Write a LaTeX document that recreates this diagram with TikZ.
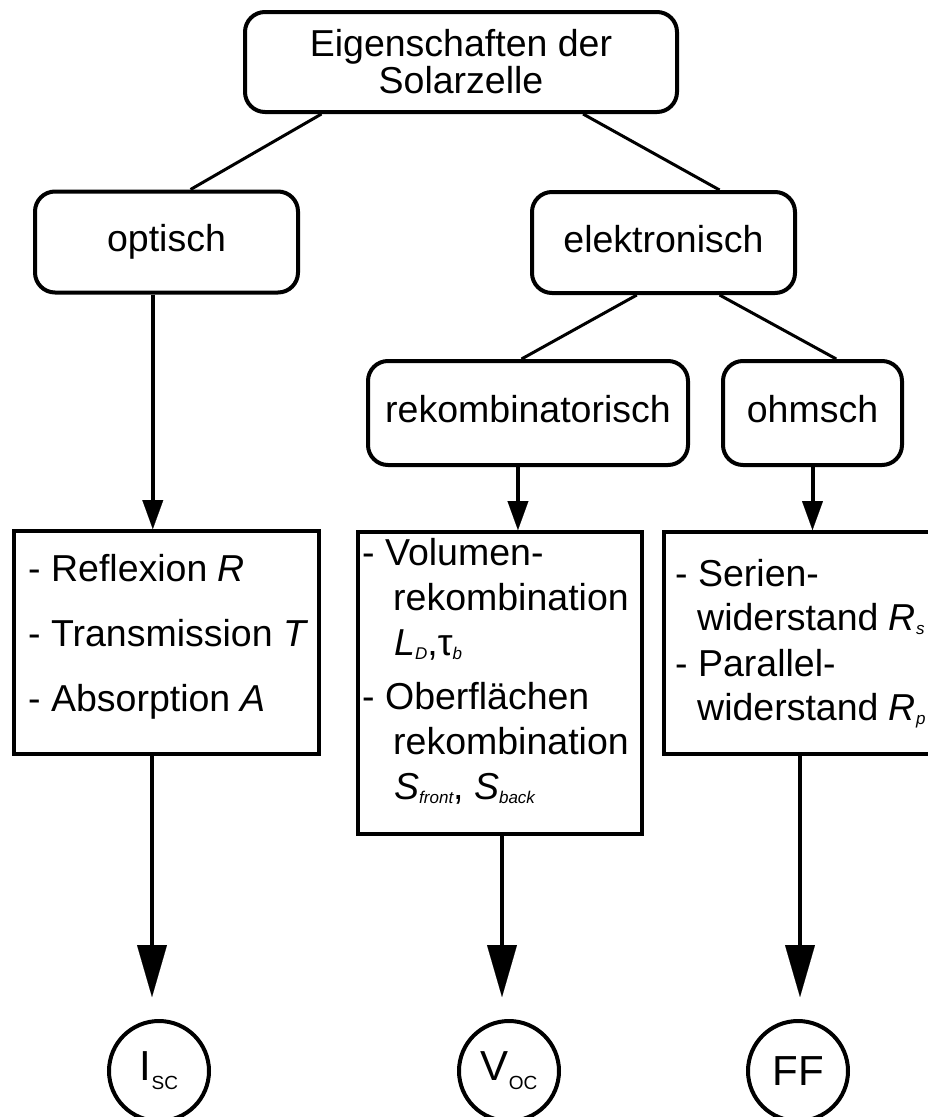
\documentclass[tikz,border=0pt]{standalone}
\usepackage{fontspec}
\setmainfont{Liberation Sans}
\usetikzlibrary{calc,arrows.meta}
\newcommand\lsub[1]{\raisebox{-4pt}{\fontsize{17}{17}\selectfont\itshape #1}}
\newcommand\csub[1]{\raisebox{-9pt}{\fontsize{19}{19}\selectfont #1}}
\begin{document}
\begin{tikzpicture}[x=1pt,y=-1pt,
  rbase/.style={draw,line width=4pt,rounded corners=20pt,inner sep=0pt,minimum height=101pt},
  rbox/.style={rbase,text height=27pt,text depth=8pt,font=\fontsize{37.5}{45}\selectfont},
  lbox/.style={draw,line width=4pt,inner sep=0pt,anchor=north west},
  ltext/.style={anchor=north west,align=left,inner sep=0pt,font=\fontsize{37.5}{45}\selectfont},
  circ/.style={draw,circle,line width=4pt,inner sep=0pt,minimum size=100pt,font=\fontsize{42}{42}\selectfont},
  conn/.style={line width=3pt},
  arr/.style={line width=4pt,-{Triangle[width=21pt,length=29pt,line width=0.1pt]}},
  bigarr/.style={line width=4pt,-{Triangle[width=30pt,length=52pt,line width=0.1pt]}}]
\useasboundingbox (0,0) rectangle (928,1117);
\fill[white] (0,0) rectangle (928,1117);
\clip (0,0) rectangle (928,1117);

% rounded boxes
\node[rbase,minimum width=432pt,minimum height=100pt,align=center,font=\fontsize{37.5}{37}\selectfont] (top) at (461,62) {Eigenschaften der\\Solarzelle};
\node[rbox,minimum width=263pt] (opt) at (166.5,242) {optisch};
\node[rbox,minimum width=263pt] (ele) at (663.5,242.5) {elektronisch};
\node[rbox,minimum width=320pt,minimum height=104pt] (rek) at (528,413) {rekombinatorisch};
\node[rbox,minimum width=179pt,minimum height=104pt] (ohm) at (812.5,413) {ohmsch};

% list boxes
\node[lbox,minimum width=305pt,minimum height=223pt] (lb) at (12,529) {};
\node[lbox,minimum width=284pt,minimum height=302pt] (mb) at (356,530) {};
\node[lbox,minimum width=283pt,minimum height=222pt] (rb) at (662,530) {};

\node[ltext] (lt) at (28,553.7) {- Reflexion \textit{R}\\[20pt]- Transmission \textit{T}\\[20pt]- Absorption \textit{A}};
\node[ltext] (mt) at (362,538.5) {- Volumen-\\
\hspace*{31pt}rekombination\\
\hspace*{32pt}\textit{L}\lsub{D},τ\lsub{b}\\[9pt]
- Oberflächen\\
\hspace*{31pt}rekombination\\
\hspace*{32pt}\textit{S}\lsub{front}, \textit{S}\lsub{back}};
\node[ltext,font=\fontsize{37.5}{44}\selectfont] (rt) at (675,559.5) {- Serien-\\
\hspace*{22pt}widerstand \textit{R}\lsub{s}\\[2pt]
- Parallel-\\
\hspace*{22pt}widerstand \textit{R}\lsub{p}};

% circles
\node[circ] (isc) at (159,1071) {I\csub{SC}};
\node[circ] (voc) at (509,1071) {V\csub{OC}};
\node[circ] (ff) at (798,1071) {FF};

% connectors
\draw[conn] ($(top.south west)!0.18!(top.south east)$) -- ($(opt.north west)!0.59!(opt.north east)$);
\draw[conn] ($(top.south west)!0.78!(top.south east)$) -- ($(ele.north west)!0.71!(ele.north east)$);
\draw[conn] ($(ele.south west)!0.40!(ele.south east)$) -- ($(rek.north west)!0.48!(rek.north east)$);
\draw[conn] ($(ele.south west)!0.71!(ele.south east)$) -- ($(ohm.north west)!0.63!(ohm.north east)$);

\coordinate (a1) at ($(opt.south west)!0.4487!(opt.south east)$);
\draw[arr] (a1) -- (a1 |- lb.north);
\coordinate (a2) at ($(rek.south west)!0.469!(rek.south east)$);
\draw[arr] (a2) -- (a2 |- mb.north);
\draw[arr] (ohm.south) -- (ohm.south |- rb.north);

\coordinate (b1) at ([xshift=-7pt,yshift=22pt]isc.north);
\coordinate (b2) at ([xshift=-7pt,yshift=22pt]voc.north);
\coordinate (b3) at ([xshift=2pt,yshift=22pt]ff.north);
\draw[bigarr] (b1 |- lb.south) -- (b1);
\draw[bigarr] (b2 |- mb.south) -- (b2);
\draw[bigarr] (b3 |- rb.south) -- (b3);
\end{tikzpicture}
\end{document}
